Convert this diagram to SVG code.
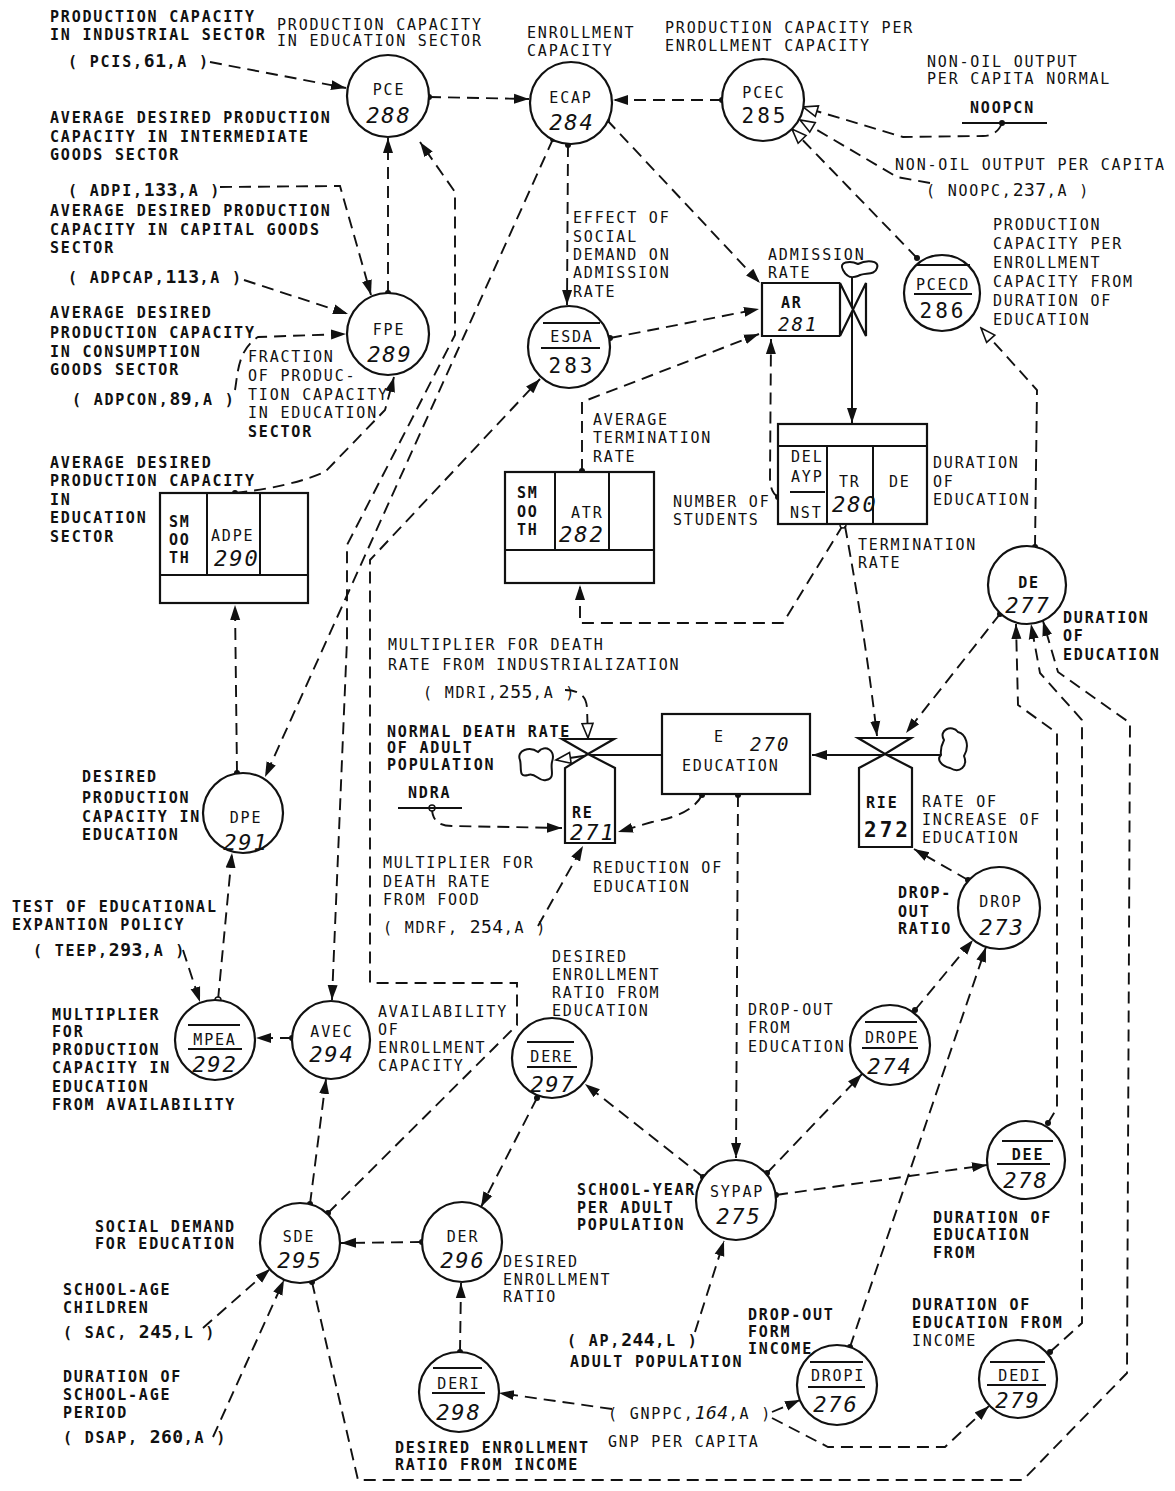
<svg xmlns="http://www.w3.org/2000/svg" width="1175" height="1491" viewBox="0 0 1175 1491">
<defs>
<marker id="ar" markerUnits="userSpaceOnUse" markerWidth="16" markerHeight="12" viewBox="0 0 16 12" refX="15" refY="6" orient="auto"><path d="M0,1 L15,6 L0,11 Z" fill="#111"/></marker>
<marker id="ars" markerUnits="userSpaceOnUse" markerWidth="16" markerHeight="12" viewBox="0 0 16 12" refX="15" refY="6" orient="auto-start-reverse"><path d="M0,1 L15,6 L0,11 Z" fill="#111"/></marker>
<marker id="ho" markerUnits="userSpaceOnUse" markerWidth="18" markerHeight="14" viewBox="0 0 18 14" refX="16" refY="7" orient="auto"><path d="M1.5,1.5 L16,7 L1.5,12.5 Z" fill="#fff" stroke="#111" stroke-width="1.6"/></marker>
<marker id="dt" markerUnits="userSpaceOnUse" markerWidth="8" markerHeight="8" viewBox="0 0 8 8" refX="4" refY="4"><circle cx="4" cy="4" r="3" fill="#111"/></marker>
<marker id="od" markerUnits="userSpaceOnUse" markerWidth="10" markerHeight="10" viewBox="0 0 10 10" refX="5" refY="5"><circle cx="5" cy="5" r="3" fill="#fff" stroke="#111" stroke-width="1.4"/></marker>
</defs>
<style>
.t{font-family:"DejaVu Sans Mono","Liberation Mono",monospace;font-size:15px;letter-spacing:1.8px;fill:#111}
.b{font-weight:bold}
.n{font-size:22px;font-style:italic;letter-spacing:2px}
.u{font-size:21px;letter-spacing:3px}
.s{font-size:19px}
.g{font-size:18px;letter-spacing:0.5px}
.m{text-anchor:middle}
.nd{fill:#fff;stroke:#111;stroke-width:2.2}
.bx{fill:#fff;stroke:#111;stroke-width:2.2}
.ln{fill:none;stroke:#111;stroke-width:1.9}
.d{stroke-dasharray:12 7}
.bar{stroke:#111;stroke-width:2}
.fl{fill:none;stroke:#111;stroke-width:2}
</style>
<rect width="1175" height="1491" fill="#fff"/>

<g id="connectors">
<path class="ln d" d="M210,62 L346,88" marker-end="url(#ar)"/>
<path class="ln d" d="M429,97 L529,99" marker-start="url(#dt)" marker-end="url(#ar)"/>
<path class="ln d" d="M722,100 L613,100" marker-start="url(#dt)" marker-end="url(#ar)"/>
<path class="ln d" d="M388,293 L388,138" marker-start="url(#dt)" marker-end="url(#ar)"/>
<path class="ln d" d="M220,187 L340,186 L371,295" marker-end="url(#ar)"/>
<path class="ln d" d="M244,280 L348,314" marker-end="url(#ar)"/>
<path class="ln d" d="M235,390 C238,372 238,350 258,337 L346,334" marker-end="url(#ar)"/>
<path class="ln d" d="M235,493 Q290,487 325,472 L385,410 L394,377" marker-start="url(#dt)" marker-end="url(#ar)"/>
<path class="ln d" d="M237,773 L235,605" marker-start="url(#dt)" marker-end="url(#ar)"/>
<path class="ln d" d="M332,1000 L333,975 L347,640 L347,545 L455,335 L455,192 L420,142" marker-start="url(#ars)" marker-end="url(#ar)"/>
<path class="ln d" d="M553,139 L265,777" marker-start="url(#dt)" marker-end="url(#ar)"/>
<path class="ln d" d="M568,145 L567,305" marker-start="url(#dt)" marker-end="url(#ar)"/>
<path class="ln d" d="M607,120 L760,283" marker-start="url(#dt)" marker-end="url(#ar)"/>
<path class="ln d" d="M610,338 L759,309" marker-start="url(#dt)" marker-end="url(#ar)"/>
<path class="ln d" d="M582,471 L582,402 L759,334" marker-start="url(#dt)" marker-end="url(#ar)"/>
<path class="ln d" d="M778,497 Q770,492 770,478 L771,339" marker-start="url(#dt)" marker-end="url(#ar)"/>
<path class="ln d" d="M843,525 L783,623 L580,623 L580,585" marker-start="url(#od)" marker-end="url(#ar)"/>
<path class="ln d" d="M845,526 Q866,640 877,736" marker-end="url(#ar)"/>
<path class="ln d" d="M1000,614 L906,733" marker-start="url(#dt)" marker-end="url(#ar)"/>
<path class="ln d" d="M1035,547 L1037,390 L981,328" marker-start="url(#dt)" marker-end="url(#ho)"/>
<path class="ln d" d="M917,258 L792,129" marker-start="url(#dt)" marker-end="url(#ho)"/>
<path class="ln d" d="M1002,123 Q997,136 983,136 L903,137 L803,107" marker-start="url(#dt)" marker-end="url(#ho)"/>
<path class="ln d" d="M930,183 L897,177 L800,120" marker-end="url(#ho)"/>
<path class="ln d" d="M738,795 L736,1158" marker-start="url(#dt)" marker-end="url(#ar)"/>
<path class="ln d" d="M695,1332 L724,1241" marker-end="url(#ar)"/>
<path class="ln d" d="M703,1177 L585,1084" marker-start="url(#dt)" marker-end="url(#ar)"/>
<path class="ln d" d="M767,1173 L862,1074" marker-start="url(#dt)" marker-end="url(#ar)"/>
<path class="ln d" d="M776,1195 L987,1165" marker-start="url(#dt)" marker-end="url(#ar)"/>
<path class="ln d" d="M537,1098 L481,1207" marker-start="url(#dt)" marker-end="url(#ar)"/>
<path class="ln d" d="M460,1352 L461,1283" marker-start="url(#dt)" marker-end="url(#ar)"/>
<path class="ln d" d="M422,1242 L341,1243" marker-start="url(#dt)" marker-end="url(#ar)"/>
<path class="ln d" d="M612,1409 L499,1393" marker-end="url(#ar)"/>
<path class="ln d" d="M772,1412 L800,1400" marker-end="url(#ar)"/>
<path class="ln d" d="M772,1418 L828,1447 L945,1447 L989,1406" marker-end="url(#ar)"/>
<path class="ln d" d="M203,1328 L270,1269" marker-end="url(#ar)"/>
<path class="ln d" d="M213,1437 L284,1280" marker-end="url(#ar)"/>
<path class="ln d" d="M312,1282 L358,1480 L1023,1480 L1127,1373 L1130,723 L1058,672 L1043,621" marker-start="url(#dt)" marker-end="url(#ar)"/>
<path class="ln d" d="M1048,1123 L1057,1108 L1057,733 L1018,705 L1016,624" marker-start="url(#dt)" marker-end="url(#ar)"/>
<path class="ln d" d="M1050,1352 L1082,1323 L1082,720 L1040,673 L1031,624" marker-start="url(#dt)" marker-end="url(#ar)"/>
<path class="ln d" d="M915,1010 L973,940" marker-start="url(#dt)" marker-end="url(#ar)"/>
<path class="ln d" d="M850,1347 L986,947" marker-start="url(#dt)" marker-end="url(#ar)"/>
<path class="ln d" d="M968,880 L914,849" marker-start="url(#dt)" marker-end="url(#ar)"/>
<path class="ln d" d="M702,795 Q692,815 652,822 L618,832" marker-start="url(#dt)" marker-end="url(#ar)"/>
<path class="ln d" d="M432,808 Q432,826 452,826 L562,828" marker-start="url(#od)" marker-end="url(#ar)"/>
<path class="ln d" d="M565,690 Q586,690 587,708 L588,738" marker-end="url(#ho)"/>
<path class="ln d" d="M538,926 L583,846" marker-end="url(#ar)"/>
<path class="ln d" d="M183,950 L200,1002" marker-end="url(#ar)"/>
<path class="ln d" d="M292,1038 L256,1038" marker-start="url(#dt)" marker-end="url(#ar)"/>
<path class="ln d" d="M218,1000 L232,853" marker-start="url(#od)" marker-end="url(#ar)"/>
<path class="ln d" d="M310,1204 L326,1079" marker-start="url(#dt)" marker-end="url(#ar)"/>
<path class="ln d" d="M328,1213 L517,1025 L517,983 L370,983 L370,560 L540,379" marker-start="url(#dt)" marker-end="url(#ar)"/>
<line class="ln" x1="962" y1="123" x2="1047" y2="123"/>
<line class="ln" x1="398" y1="808" x2="462" y2="808"/>
<path class="fl" d="M852,277 L852,423" marker-end="url(#ar)"/>
<path class="fl" d="M662,755 L590,755 L556,760" marker-end="url(#ho)"/>
<path class="fl" d="M941,755 L812,755" marker-end="url(#ar)"/>
</g>

<g id="clouds">
<path class="fl" d="M843,270 C838,262 850,260 858,264 C866,260 880,260 877,268 C875,276 864,272 858,276 C850,279 846,276 843,270 Z"/>
<path class="fl" d="M520,760 C516,750 530,746 538,752 C545,744 556,750 552,762 C550,770 556,778 546,780 C538,782 536,772 528,775 C518,778 522,768 520,760 Z"/>
<path class="fl" d="M944,740 C938,730 952,724 958,732 C966,734 970,746 964,756 C968,766 960,774 950,768 C942,766 936,760 941,755 C940,748 942,744 944,740 Z"/>
</g>

<g id="PCE"><circle class="nd" cx="388" cy="96" r="41"/><text class="t m" x="389" y="95">PCE</text><text class="t n m" x="389" y="123">288</text></g>
<g id="ECAP"><circle class="nd" cx="571" cy="103" r="41"/><text class="t m" x="571" y="103">ECAP</text><text class="t n m" x="572" y="130">284</text></g>
<g id="PCEC"><circle class="nd" cx="763" cy="100" r="41"/><text class="t m" x="764" y="98">PCEC</text><text class="t u m" x="765" y="123">285</text></g>
<g id="FPE"><circle class="nd" cx="388" cy="334" r="41"/><text class="t m" x="389" y="335">FPE</text><text class="t n m" x="390" y="362">289</text></g>
<g id="ESDA"><circle class="nd" cx="569" cy="347" r="41"/><line class="bar" x1="543" y1="323" x2="600" y2="323"/><text class="t m" x="572" y="342">ESDA</text><line class="bar" x1="541" y1="348" x2="600" y2="348"/><text class="t u m" x="572" y="373">283</text></g>
<g id="PCECD"><circle class="nd" cx="942" cy="293" r="38"/><line class="bar" x1="916" y1="265" x2="970" y2="265"/><text class="t m" x="943" y="290">PCECD</text><line class="bar" x1="914" y1="294" x2="972" y2="294"/><text class="t u m" x="943" y="318">286</text></g>
<g id="AR"><path class="bx" d="M840,283 L762,283 L762,336 L840,336"/><polygon class="bx" points="840,283 866,336 866,283 840,336"/><text class="t b" x="781" y="308">AR</text><text class="t n s" x="778" y="331">281</text></g>
<g id="TR"><rect class="bx" x="778" y="424" width="149" height="100"/><line class="bar" x1="778" y1="446" x2="927" y2="446"/><line class="bar" x1="827" y1="446" x2="827" y2="524"/><line class="bar" x1="873" y1="446" x2="873" y2="524"/><line class="bar" x1="790" y1="492" x2="825" y2="492"/><text class="t" x="791" y="462">DEL</text><text class="t" x="791" y="482">AYP</text><text class="t" x="790" y="518">NST</text><text class="t" x="839" y="487">TR</text><text class="t n" x="832" y="512">280</text><text class="t" x="889" y="487">DE</text></g>
<g id="ADPE"><rect class="bx" x="160" y="493" width="148" height="110"/><line class="bar" x1="160" y1="575" x2="308" y2="575"/><line class="bar" x1="207" y1="493" x2="207" y2="575"/><line class="bar" x1="260" y1="493" x2="260" y2="575"/><text class="t b" x="169" y="527">SM</text><text class="t b" x="169" y="545">OO</text><text class="t b" x="169" y="563">TH</text><text class="t" x="211" y="541">ADPE</text><text class="t n" x="214" y="566">290</text></g>
<g id="ATR"><rect class="bx" x="505" y="472" width="149" height="111"/><line class="bar" x1="505" y1="550" x2="654" y2="550"/><line class="bar" x1="555" y1="472" x2="555" y2="550"/><line class="bar" x1="609" y1="472" x2="609" y2="550"/><text class="t b" x="517" y="498">SM</text><text class="t b" x="517" y="517">OO</text><text class="t b" x="517" y="535">TH</text><text class="t" x="571" y="518">ATR</text><text class="t n" x="559" y="542">282</text></g>
<g id="DE"><circle class="nd" cx="1027" cy="585" r="39"/><text class="t b m" x="1029" y="588">DE</text><text class="t n m" x="1028" y="613">277</text></g>
<g id="E"><rect class="bx" x="662" y="714" width="148" height="80"/><text class="t" x="714" y="742">E</text><text class="t n s" x="750" y="751">270</text><text class="t" x="682" y="771">EDUCATION</text></g>
<g id="RE"><polygon class="bx" points="565,843 565,768 588,754 615,768 615,843"/><polygon class="bx" points="562,739 614,739 588,754"/><text class="t b" x="572" y="818">RE</text><text class="t n" x="570" y="840">271</text></g>
<g id="RIE"><polygon class="bx" points="859,847 859,768 885,754 912,768 912,847"/><polygon class="bx" points="858,738 911,738 885,754"/><text class="t b" x="866" y="808">RIE</text><text class="t b u" x="864" y="837">272</text></g>
<g id="DROP"><circle class="nd" cx="999" cy="908" r="41"/><text class="t m" x="1001" y="907">DROP</text><text class="t n m" x="1002" y="935">273</text></g>
<g id="DPE"><circle class="nd" cx="243" cy="813" r="40"/><text class="t m" x="246" y="823">DPE</text><text class="t n m" x="246" y="850">291</text></g>
<g id="MPEA"><circle class="nd" cx="215" cy="1040" r="40"/><line class="bar" x1="188" y1="1025" x2="240" y2="1025"/><text class="t m" x="215" y="1045">MPEA</text><line class="bar" x1="188" y1="1049" x2="242" y2="1049"/><text class="t n m" x="215" y="1072">292</text></g>
<g id="AVEC"><circle class="nd" cx="331" cy="1040" r="39"/><text class="t m" x="332" y="1037">AVEC</text><text class="t n m" x="332" y="1062">294</text></g>
<g id="SDE"><circle class="nd" cx="300" cy="1243" r="40"/><text class="t m" x="299" y="1242">SDE</text><text class="t n m" x="300" y="1268">295</text></g>
<g id="DER"><circle class="nd" cx="462" cy="1242" r="40"/><text class="t m" x="463" y="1242">DER</text><text class="t n m" x="463" y="1268">296</text></g>
<g id="DERE"><circle class="nd" cx="552" cy="1058" r="40"/><line class="bar" x1="527" y1="1042" x2="574" y2="1042"/><text class="t m" x="552" y="1062">DERE</text><line class="bar" x1="527" y1="1067" x2="577" y2="1067"/><text class="t n m" x="553" y="1092">297</text></g>
<g id="DERI"><circle class="nd" cx="459" cy="1392" r="40"/><line class="bar" x1="433" y1="1368" x2="482" y2="1368"/><text class="t m" x="459" y="1389">DERI</text><line class="bar" x1="432" y1="1393" x2="485" y2="1393"/><text class="t n m" x="459" y="1420">298</text></g>
<g id="SYPAP"><circle class="nd" cx="736" cy="1200" r="40"/><text class="t m" x="737" y="1197">SYPAP</text><text class="t n m" x="739" y="1224">275</text></g>
<g id="DROPE"><circle class="nd" cx="890" cy="1045" r="40"/><line class="bar" x1="865" y1="1022" x2="917" y2="1022"/><text class="t m" x="892" y="1043">DROPE</text><line class="bar" x1="862" y1="1048" x2="918" y2="1048"/><text class="t n m" x="890" y="1074">274</text></g>
<g id="DEE"><circle class="nd" cx="1026" cy="1160" r="39"/><line class="bar" x1="1002" y1="1141" x2="1053" y2="1141"/><text class="t b m" x="1028" y="1160">DEE</text><line class="bar" x1="997" y1="1164" x2="1050" y2="1164"/><text class="t n m" x="1026" y="1188">278</text></g>
<g id="DROPI"><circle class="nd" cx="837" cy="1385" r="40"/><line class="bar" x1="810" y1="1362" x2="863" y2="1362"/><text class="t m" x="838" y="1381">DROPI</text><line class="bar" x1="808" y1="1387" x2="865" y2="1387"/><text class="t n m" x="836" y="1412">276</text></g>
<g id="DEDI"><circle class="nd" cx="1018" cy="1379" r="39"/><line class="bar" x1="990" y1="1362" x2="1045" y2="1362"/><text class="t m" x="1020" y="1381">DEDI</text><line class="bar" x1="987" y1="1385" x2="1046" y2="1385"/><text class="t n m" x="1018" y="1408">279</text></g>

<g id="labels">
<text class="t b" x="50" y="22">PRODUCTION CAPACITY</text>
<text class="t b" x="50" y="40">IN INDUSTRIAL SECTOR</text>
<text class="t b" x="68" y="67">( PCIS,<tspan class="g">61</tspan>,A )</text>
<text class="t" x="277" y="30">PRODUCTION CAPACITY</text>
<text class="t" x="277" y="46">IN EDUCATION SECTOR</text>
<text class="t" x="527" y="38">ENROLLMENT</text>
<text class="t" x="527" y="56">CAPACITY</text>
<text class="t" x="665" y="33">PRODUCTION CAPACITY PER</text>
<text class="t" x="665" y="51">ENROLLMENT CAPACITY</text>
<text class="t" x="927" y="67">NON-OIL OUTPUT</text>
<text class="t" x="927" y="84">PER CAPITA NORMAL</text>
<text class="t b" x="970" y="113">NOOPCN</text>
<text class="t" x="895" y="170">NON-OIL OUTPUT PER CAPITA</text>
<text class="t" x="926" y="196">( NOOPC,<tspan class="g">237</tspan>,A )</text>
<text class="t" x="993" y="230">PRODUCTION</text>
<text class="t" x="993" y="249">CAPACITY PER</text>
<text class="t" x="993" y="268">ENROLLMENT</text>
<text class="t" x="993" y="287">CAPACITY FROM</text>
<text class="t" x="993" y="306">DURATION OF</text>
<text class="t" x="993" y="325">EDUCATION</text>
<text class="t b" x="50" y="123">AVERAGE DESIRED PRODUCTION</text>
<text class="t b" x="50" y="142">CAPACITY IN INTERMEDIATE</text>
<text class="t b" x="50" y="160">GOODS SECTOR</text>
<text class="t b" x="68" y="196">( ADPI,<tspan class="g">133</tspan>,A )</text>
<text class="t b" x="50" y="216">AVERAGE DESIRED PRODUCTION</text>
<text class="t b" x="50" y="235">CAPACITY IN CAPITAL GOODS</text>
<text class="t b" x="50" y="253">SECTOR</text>
<text class="t b" x="68" y="283">( ADPCAP,<tspan class="g">113</tspan>,A )</text>
<text class="t b" x="50" y="318">AVERAGE DESIRED</text>
<text class="t b" x="50" y="338">PRODUCTION CAPACITY</text>
<text class="t b" x="50" y="357">IN CONSUMPTION</text>
<text class="t b" x="50" y="375">GOODS SECTOR</text>
<text class="t b" x="72" y="405">( ADPCON,<tspan class="g">89</tspan>,A )</text>
<text class="t" x="248" y="362">FRACTION</text>
<text class="t" x="248" y="381">OF PRODUC-</text>
<text class="t" x="248" y="400">TION CAPACITY</text>
<text class="t" x="248" y="418">IN EDUCATION</text>
<text class="t b" x="248" y="437">SECTOR</text>
<text class="t b" x="50" y="468">AVERAGE DESIRED</text>
<text class="t b" x="50" y="486">PRODUCTION CAPACITY</text>
<text class="t b" x="50" y="505">IN</text>
<text class="t b" x="50" y="523">EDUCATION</text>
<text class="t b" x="50" y="542">SECTOR</text>
<text class="t" x="573" y="223">EFFECT OF</text>
<text class="t" x="573" y="242">SOCIAL</text>
<text class="t" x="573" y="260">DEMAND ON</text>
<text class="t" x="573" y="278">ADMISSION</text>
<text class="t" x="573" y="297">RATE</text>
<text class="t" x="768" y="260">ADMISSION</text>
<text class="t" x="768" y="278">RATE</text>
<text class="t" x="593" y="425">AVERAGE</text>
<text class="t" x="593" y="443">TERMINATION</text>
<text class="t" x="593" y="462">RATE</text>
<text class="t" x="673" y="507">NUMBER OF</text>
<text class="t" x="673" y="525">STUDENTS</text>
<text class="t" x="933" y="468">DURATION</text>
<text class="t" x="933" y="487">OF</text>
<text class="t" x="933" y="505">EDUCATION</text>
<text class="t" x="858" y="550">TERMINATION</text>
<text class="t" x="858" y="568">RATE</text>
<text class="t b" x="1063" y="623">DURATION</text>
<text class="t b" x="1063" y="641">OF</text>
<text class="t b" x="1063" y="660">EDUCATION</text>
<text class="t" x="388" y="650">MULTIPLIER FOR DEATH</text>
<text class="t" x="388" y="670">RATE FROM INDUSTRIALIZATION</text>
<text class="t" x="423" y="698">( MDRI,<tspan class="g">255</tspan>,A )</text>
<text class="t b" x="387" y="737">NORMAL DEATH RATE</text>
<text class="t b" x="387" y="753">OF ADULT</text>
<text class="t b" x="387" y="770">POPULATION</text>
<text class="t b" x="408" y="798">NDRA</text>
<text class="t" x="383" y="868">MULTIPLIER FOR</text>
<text class="t" x="383" y="887">DEATH RATE</text>
<text class="t" x="383" y="905">FROM FOOD</text>
<text class="t" x="383" y="933">( MDRF, <tspan class="g">254</tspan>,A )</text>
<text class="t" x="593" y="873">REDUCTION OF</text>
<text class="t" x="593" y="892">EDUCATION</text>
<text class="t" x="922" y="807">RATE OF</text>
<text class="t" x="922" y="825">INCREASE OF</text>
<text class="t" x="922" y="843">EDUCATION</text>
<text class="t b" x="898" y="898">DROP-</text>
<text class="t b" x="898" y="917">OUT</text>
<text class="t b" x="898" y="934">RATIO</text>
<text class="t b" x="82" y="782">DESIRED</text>
<text class="t b" x="82" y="803">PRODUCTION</text>
<text class="t b" x="82" y="822">CAPACITY IN</text>
<text class="t b" x="82" y="840">EDUCATION</text>
<text class="t b" x="12" y="912">TEST OF EDUCATIONAL</text>
<text class="t b" x="12" y="930">EXPANTION POLICY</text>
<text class="t b" x="33" y="956">( TEEP,<tspan class="g">293</tspan>,A )</text>
<text class="t b" x="52" y="1020">MULTIPLIER</text>
<text class="t b" x="52" y="1037">FOR</text>
<text class="t b" x="52" y="1055">PRODUCTION</text>
<text class="t b" x="52" y="1073">CAPACITY IN</text>
<text class="t b" x="52" y="1092">EDUCATION</text>
<text class="t b" x="52" y="1110">FROM AVAILABILITY</text>
<text class="t" x="378" y="1017">AVAILABILITY</text>
<text class="t" x="378" y="1035">OF</text>
<text class="t" x="378" y="1053">ENROLLMENT</text>
<text class="t" x="378" y="1071">CAPACITY</text>
<text class="t" x="552" y="962">DESIRED</text>
<text class="t" x="552" y="980">ENROLLMENT</text>
<text class="t" x="552" y="998">RATIO FROM</text>
<text class="t" x="552" y="1016">EDUCATION</text>
<text class="t" x="748" y="1015">DROP-OUT</text>
<text class="t" x="748" y="1033">FROM</text>
<text class="t" x="748" y="1052">EDUCATION</text>
<text class="t b" x="577" y="1195">SCHOOL-YEAR</text>
<text class="t b" x="577" y="1213">PER ADULT</text>
<text class="t b" x="577" y="1230">POPULATION</text>
<text class="t b" x="933" y="1223">DURATION OF</text>
<text class="t b" x="933" y="1240">EDUCATION</text>
<text class="t b" x="933" y="1258">FROM</text>
<text class="t b" x="95" y="1232">SOCIAL DEMAND</text>
<text class="t b" x="95" y="1249">FOR EDUCATION</text>
<text class="t" x="503" y="1267">DESIRED</text>
<text class="t" x="503" y="1285">ENROLLMENT</text>
<text class="t" x="503" y="1302">RATIO</text>
<text class="t b" x="63" y="1295">SCHOOL-AGE</text>
<text class="t b" x="63" y="1313">CHILDREN</text>
<text class="t b" x="63" y="1338">( SAC, <tspan class="g">245</tspan>,L )</text>
<text class="t b" x="63" y="1382">DURATION OF</text>
<text class="t b" x="63" y="1400">SCHOOL-AGE</text>
<text class="t b" x="63" y="1418">PERIOD</text>
<text class="t b" x="63" y="1443">( DSAP, <tspan class="g">260</tspan>,A )</text>
<text class="t b" x="567" y="1346">( AP,<tspan class="g">244</tspan>,L )</text>
<text class="t b" x="570" y="1367">ADULT POPULATION</text>
<text class="t b" x="748" y="1320">DROP-OUT</text>
<text class="t b" x="748" y="1337">FORM</text>
<text class="t b" x="748" y="1354">INCOME</text>
<text class="t b" x="912" y="1310">DURATION OF</text>
<text class="t b" x="912" y="1328">EDUCATION FROM</text>
<text class="t" x="912" y="1346">INCOME</text>
<text class="t" x="608" y="1419">( GNPPC,<tspan class="g" font-style="italic">164</tspan>,A )</text>
<text class="t" x="608" y="1447">GNP PER CAPITA</text>
<text class="t b" x="395" y="1453">DESIRED ENROLLMENT</text>
<text class="t b" x="395" y="1470">RATIO FROM INCOME</text>
</g>
</svg>
